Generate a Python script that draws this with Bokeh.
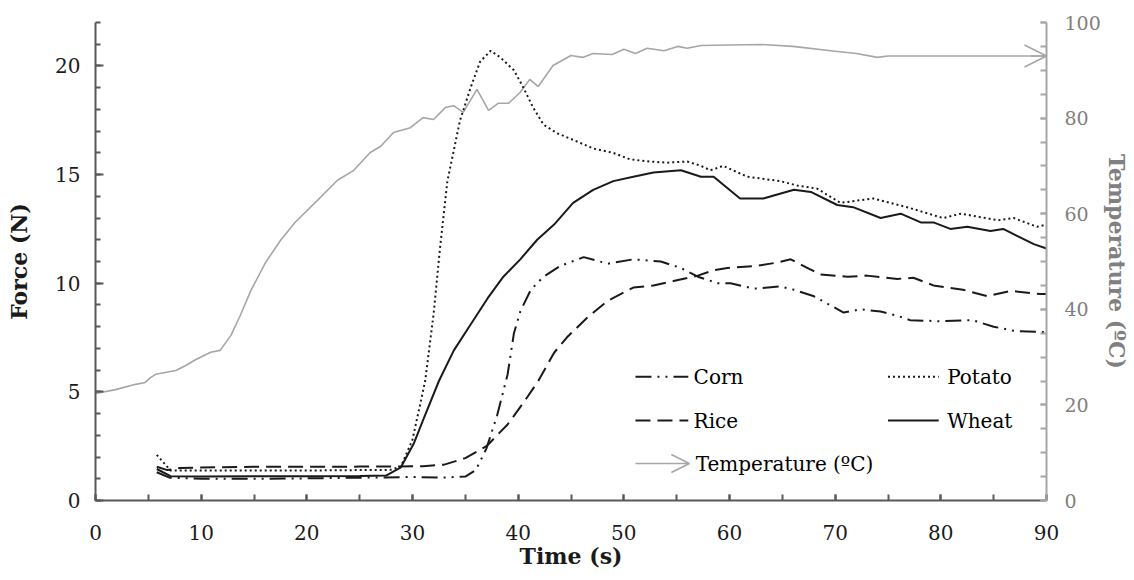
from bokeh.plotting import figure
from bokeh.models import Range1d, LinearAxis, SingleIntervalTicker, Label, Arrow, OpenHead
from bokeh.embed import file_html
from bokeh.resources import INLINE

# ---------------- data ----------------
corn_t = [5.8, 7.0, 10, 15, 20, 25, 30, 33, 35, 36, 37, 38, 39, 39.6, 40.2, 41.2, 42.4, 44, 46.2, 48.5,
          50.9, 53.5, 55.4, 57, 58.9, 60.1, 62.3, 64.8, 66.1, 68, 69.3, 70.8, 72.4, 74.3, 75.9, 77.1,
          80, 83, 85, 87, 90]
corn_f = [1.3, 1.05, 1.0, 1.0, 1.02, 1.05, 1.08, 1.06, 1.1, 1.4, 2.4, 3.9, 5.8, 7.7, 8.7, 9.7, 10.3, 10.8, 11.2, 10.9,
          11.1, 11.0, 10.7, 10.3, 10.0, 10.0, 9.75, 9.85, 9.7, 9.4, 9.05, 8.65, 8.8, 8.7, 8.5, 8.3,
          8.25, 8.3, 8.0, 7.8, 7.75]

rice_t = [5.8, 6.8, 8, 10, 15, 20, 25, 28, 31, 33, 35, 37, 39, 40.5, 41.9, 43.4, 44.6, 46.5, 48.5, 50.9,
          52.8, 54.7, 57, 58.5, 59.8, 62.6, 64.5, 65.8, 67.4, 68.6, 71.2, 73, 75.9, 77.4, 79.3, 82.1,
          84.4, 86.6, 89.4, 90]
rice_f = [1.55, 1.4, 1.5, 1.52, 1.55, 1.55, 1.56, 1.56, 1.58, 1.65, 1.95, 2.5, 3.5, 4.5, 5.5, 6.8, 7.5, 8.4, 9.2, 9.8,
          9.9, 10.1, 10.35, 10.6, 10.7, 10.8, 10.95, 11.1, 10.7, 10.4, 10.3, 10.35, 10.2, 10.25, 9.9, 9.7,
          9.4, 9.65, 9.5, 9.5]

potato_t = [5.8, 7.1, 10, 15, 20, 25, 27.9, 28.9, 30, 31.2, 32, 32.6, 33.3, 34.5, 35.5, 36.4, 37.4, 38.3, 39.6,
            40.5, 41.4, 42.4, 43.7, 45.2, 47.1, 49, 50.6, 52.5, 54.1, 56, 57.3, 58.2, 59.4, 61.7, 64.8, 66.4,
            68.3, 70.5, 73.6, 76.8, 80.2, 81.9, 85.4, 86.9, 89.1, 90]
potato_f = [2.1, 1.38, 1.38, 1.38, 1.38, 1.4, 1.41, 1.56, 2.8, 5.5, 8.6, 11.6, 14.7, 17.5, 19.0, 20.2, 20.7, 20.4, 19.8,
            19.0, 18.1, 17.3, 16.9, 16.6, 16.2, 16.0, 15.7, 15.6, 15.55, 15.6, 15.4, 15.2, 15.4, 14.9, 14.7, 14.5,
            14.35, 13.7, 13.9, 13.5, 13.0, 13.2, 12.9, 13.0, 12.6, 12.7]

wheat_t = [5.8, 7.1, 10, 15, 20, 25, 27.5, 28.9, 30.1, 31, 32.5, 33.9, 35.5, 37.1, 38.6, 40.2, 41.8, 43.4, 45.2,
           47.1, 49, 50.9, 52.8, 55.4, 57.3, 58.5, 61, 63.2, 66.1, 67.7, 70.2, 71.7, 74.3, 76.2, 78.1, 79.3,
           80.9, 82.5, 84.7, 85.9, 88.8, 90]
wheat_f = [1.45, 1.12, 1.1, 1.12, 1.12, 1.13, 1.15, 1.53, 2.6, 3.7, 5.5, 6.9, 8.1, 9.3, 10.3, 11.1, 12.0, 12.7, 13.7,
           14.3, 14.7, 14.9, 15.1, 15.2, 14.9, 14.9, 13.9, 13.9, 14.3, 14.2, 13.6, 13.5, 13.0, 13.2, 12.8, 12.8,
           12.5, 12.6, 12.4, 12.5, 11.8, 11.6]

temp_t = [0, 1.9, 3.8, 4.7, 5.2, 5.7, 7.6, 8.5, 9.5, 10.9, 11.8, 12.8, 13.7, 14.7, 16.1, 17.5, 18.9, 21.0, 22.9,
          24.4, 26.0, 27.0, 28.2, 29.8, 31.0, 32.0, 33.1, 33.9, 34.8, 36.1, 37.2, 38.1, 39.1, 40.2, 41.1, 41.9,
          43.3, 45.0, 46.1, 47.1, 48.9, 50.0, 51.1, 52.2, 53.8, 55.1, 56.0, 57.3, 60, 63, 66, 70, 72, 74, 75,
          80, 85, 90]
temp_c = [22.4, 23.2, 24.3, 24.7, 25.7, 26.4, 27.2, 28.2, 29.5, 31.0, 31.4, 34.5, 38.7, 43.9, 49.8, 54.4, 58.2, 62.8,
          67.0, 69.0, 72.8, 74.1, 77.0, 78.0, 80.1, 79.7, 82.2, 82.6, 81.2, 86.0, 81.6, 83.1, 83.1, 85.4, 88.1,
          86.6, 91.0, 93.1, 92.7, 93.5, 93.3, 94.4, 93.5, 94.6, 94.1, 95.0, 94.6, 95.2, 95.3, 95.4, 95.0, 94.0,
          93.5, 92.7, 93.0, 93.0, 93.0, 93.0]

x_label = "Time (s)"
y_label = "Force (N)"
y2_label = "Temperature (ºC)"
names = ["Corn", "Potato", "Rice", "Wheat", "Temperature (ºC)"]

# ---------------- styles ----------------
FONT = "DejaVu Serif"
DARK = "#595959"
GREY = "#a6a6a6"
GREY_TXT = "#808080"
BLACK = "#1a1a1a"
dash_corn = "16 6 2 6 2 6"
dash_rice = "15 7"
dash_potato = "2 3"

p = figure(frame_width=951, frame_height=478, output_backend="svg", toolbar_location=None,
           x_range=Range1d(0, 90), y_range=Range1d(0, 22),
           min_border_left=95, min_border_right=20, min_border_top=22, min_border_bottom=20)
p.outline_line_color = None
p.xgrid.grid_line_color = None
p.ygrid.grid_line_color = None
p.background_fill_color = "white"
p.border_fill_color = "white"
p.extra_y_ranges = {"temp": Range1d(0, 100)}

# lines
p.line(temp_t, temp_c, y_range_name="temp", line_color=GREY, line_width=1.6)
p.add_layout(Arrow(end=OpenHead(size=22, line_color=GREY, line_width=1.6), x_start=88.5, y_start=temp_c[-1],
                   x_end=90, y_end=temp_c[-1], line_color=GREY, line_width=1.6, y_range_name="temp"))
p.line(corn_t, corn_f, line_color=BLACK, line_width=2, line_dash=dash_corn)
p.line(rice_t, rice_f, line_color=BLACK, line_width=2, line_dash=dash_rice)
p.line(potato_t, potato_f, line_color=BLACK, line_width=2, line_dash=dash_potato)
p.line(wheat_t, wheat_f, line_color=BLACK, line_width=2)

# axes
def style_axis(ax, color, txt, tick_in, minor_in, tick_size="20px"):
    ax.axis_line_color = color
    ax.axis_line_width = 2
    ax.major_tick_line_color = color
    ax.minor_tick_line_color = color
    ax.major_tick_line_width = 2
    ax.minor_tick_line_width = 2
    ax.major_tick_in = tick_in
    ax.major_tick_out = 0
    ax.minor_tick_in = minor_in
    ax.minor_tick_out = 0
    ax.major_label_text_font = FONT
    ax.major_label_text_font_size = tick_size
    ax.major_label_text_color = txt
    ax.axis_label_text_font = FONT
    ax.axis_label_text_font_size = "22px"
    ax.axis_label_text_font_style = "bold"
    ax.axis_label_text_color = txt

xa = p.xaxis[0]
xa.ticker = SingleIntervalTicker(interval=10, num_minor_ticks=2)
xa.axis_label = x_label
style_axis(xa, DARK, "#1a1a1a", 6, 6)
xa.major_label_standoff = 24
xa.axis_label_standoff = 0

ya = p.yaxis[0]
ya.ticker = SingleIntervalTicker(interval=5, num_minor_ticks=5)
ya.axis_label = y_label
style_axis(ya, DARK, "#1a1a1a", 8, 5)
ya.major_label_standoff = 15
ya.axis_label_standoff = 20

y2 = LinearAxis(y_range_name="temp", ticker=SingleIntervalTicker(interval=20, num_minor_ticks=4), axis_label=y2_label)
style_axis(y2, GREY, GREY_TXT, 6, 6, "19px")
y2.major_label_standoff = 18
y2.axis_label_standoff = 0
p.add_layout(y2, "right")

# legend (drawn as annotations)
rows = [5.7, 3.68, 1.7]
col_x = [(51.1, 56.1, 56.6), (75.0, 79.8, 80.6)]
samples = [
    (0, 0, dash_corn, names[0]),
    (1, 0, dash_potato, names[1]),
    (0, 1, dash_rice, names[2]),
    (1, 1, "solid", names[3]),
]
for c, r, dash, name in samples:
    x0, x1, xt = col_x[c]
    p.add_layout(Arrow(end=None, x_start=x0, y_start=rows[r], x_end=x1, y_end=rows[r],
                       line_color=BLACK, line_width=2, line_dash=dash))
    p.add_layout(Label(x=xt, y=rows[r], text=name, text_font=FONT, text_font_size="20px",
                       text_baseline="middle", text_color="black"))
x0, x1, xt = col_x[0]
p.add_layout(Arrow(end=OpenHead(size=18, line_color=GREY, line_width=1.6), x_start=x0, y_start=rows[2],
                   x_end=x1 + 0.1, y_end=rows[2], line_color=GREY, line_width=1.6))
p.add_layout(Label(x=xt + 0.2, y=rows[2], text=names[4], text_font=FONT, text_font_size="20px",
                   text_baseline="middle", text_color="black"))

open("out.html", "w").write(file_html(p, INLINE))
